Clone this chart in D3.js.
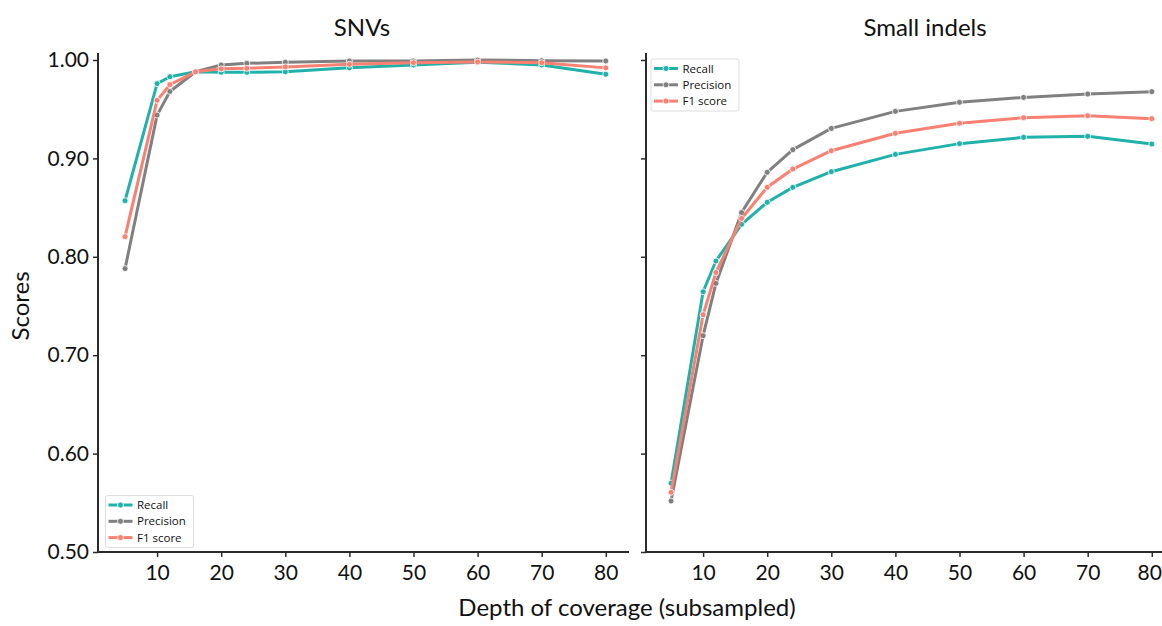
<!DOCTYPE html>
<html><head><meta charset="utf-8">
<script src="https://cdn.jsdelivr.net/npm/d3@7"></script>
<style>body{margin:0;background:#fff}text{font-family:Lato,"Open Sans",sans-serif;fill:#111}</style>
</head><body><svg id="c" width="1162" height="626"></svg>
<script>
const depths = [5,10,12,16,20,24,30,40,50,60,70,80];
const xTicks = [10,20,30,40,50,60,70,80];
const yTicks = [0.5,0.6,0.7,0.8,0.9,1.0];
const seriesNames = ["Recall","Precision","F1 score"];
const seriesColors = ["#20b2aa","#808080","#fa8072"];
const panelTitles = ["SNVs","Small indels"];
const snvRecall    = [0.857,0.976,0.983,0.988,0.9875,0.9875,0.988,0.992,0.995,0.9977,0.995,0.9855];
const snvPrecision = [0.788,0.944,0.968,0.988,0.995,0.9966,0.9977,0.999,0.999,1.0,0.9993,0.999];
const snvF1        = [0.8205,0.959,0.975,0.988,0.991,0.9915,0.993,0.9956,0.9973,0.998,0.9973,0.992];
const indelRecall    = [0.570,0.7645,0.7957,0.833,0.8554,0.8706,0.8865,0.9041,0.915,0.9214,0.9224,0.9146];
const indelPrecision = [0.5518,0.7198,0.773,0.845,0.8859,0.9089,0.9305,0.9478,0.957,0.962,0.9654,0.9678];
const indelF1        = [0.5607,0.7412,0.784,0.839,0.8706,0.8892,0.9078,0.9255,0.9357,0.9414,0.9434,0.9404];

const panels = [
  {title: panelTitles[0], series:[snvRecall,snvPrecision,snvF1], x0:93, spine:98, end:629, titleX:362, legend:{x:105.5,y:495.5}},
  {title: panelTitles[1], series:[indelRecall,indelPrecision,indelF1], x0:639, spine:646, end:1175, titleX:925, legend:{x:651,y:59}}
];
const svg = d3.select("#c");
const y = d3.scaleLinear().domain([0.5,1.0]).range([552,60]);
const pxPerUnit = 6.41;
const axisColor = "#2b2b2b";
const fs = 21, fl = 24;

panels.forEach((p,pi)=>{
  const x = d3.scaleLinear().domain([0,80]).range([p.x0, p.x0+80*pxPerUnit]);
  const g = svg.append("g");
  g.append("line").attr("x1",p.spine).attr("x2",p.spine).attr("y1",53).attr("y2",553)
    .attr("stroke",axisColor).attr("stroke-width",2);
  g.append("line").attr("x1",p.spine-1).attr("x2",p.end).attr("y1",552).attr("y2",552)
    .attr("stroke",axisColor).attr("stroke-width",2);
  const xa = d3.axisBottom(x).tickValues(xTicks).tickSize(5).tickPadding(5).tickFormat(d3.format("d"));
  const xg = g.append("g").attr("transform","translate(0,552)").call(xa);
  xg.select(".domain").remove();
  xg.selectAll(".tick line").attr("stroke",axisColor).attr("stroke-width",1.5);
  xg.selectAll(".tick text").attr("font-size",fs).attr("font-family","Lato").attr("fill","#111").attr("dy","0.85em");
  if (pi===1) xg.selectAll(".tick text").filter(d=>d===80).attr("dx",-2.5);
  const ya = d3.axisLeft(y).tickValues(yTicks).tickSize(5).tickPadding(4).tickFormat(pi===0?d3.format(".2f"):()=>"");
  const yg = g.append("g").attr("transform",`translate(${p.spine},0)`).call(ya);
  yg.select(".domain").remove();
  yg.selectAll(".tick line").attr("stroke",axisColor).attr("stroke-width",1.5);
  yg.selectAll(".tick text").attr("font-size",fs).attr("font-family","Lato").attr("fill","#111");
  g.append("text").attr("x",p.titleX).attr("y",36).attr("text-anchor","middle")
    .attr("font-size",fl).text(p.title);
  const line = d3.line().x((d,i)=>x(depths[i])).y(d=>y(d));
  p.series.forEach((vals,si)=>{
    g.append("path").datum(vals).attr("d",line).attr("fill","none")
      .attr("stroke",seriesColors[si]).attr("stroke-width",3).attr("stroke-linejoin","round");
    g.selectAll(null).data(vals).enter().append("circle")
      .attr("cx",(d,i)=>x(depths[i])).attr("cy",d=>y(d)).attr("r",3)
      .attr("fill",seriesColors[si]).attr("stroke","#fff").attr("stroke-width",0.8);
  });
  const L = p.legend;
  const lg = g.append("g").attr("transform",`translate(${L.x},${L.y})`);
  lg.append("rect").attr("width",88).attr("height",52).attr("rx",2)
    .attr("fill","#fff").attr("fill-opacity",0.85).attr("stroke","#dddddd").attr("stroke-width",1);
  seriesNames.forEach((n,si)=>{
    const yy = 9.5 + si*16.3;
    lg.append("line").attr("x1",3).attr("x2",27).attr("y1",yy).attr("y2",yy)
      .attr("stroke",seriesColors[si]).attr("stroke-width",3);
    lg.append("circle").attr("cx",15).attr("cy",yy).attr("r",3).attr("fill",seriesColors[si])
      .attr("stroke","#fff").attr("stroke-width",0.8);
    lg.append("text").attr("x",31.5).attr("y",yy).attr("dy","0.35em").attr("font-size",11.5)
      .style("font-family","'Open Sans'").text(n);
  });
});
svg.append("text").attr("transform","translate(29,306) rotate(-90)").attr("text-anchor","middle")
  .attr("font-size",fl).text("Scores");
svg.append("text").attr("x",627).attr("y",616).attr("text-anchor","middle")
  .attr("font-size",fl).text("Depth of coverage (subsampled)");
</script></body></html>
